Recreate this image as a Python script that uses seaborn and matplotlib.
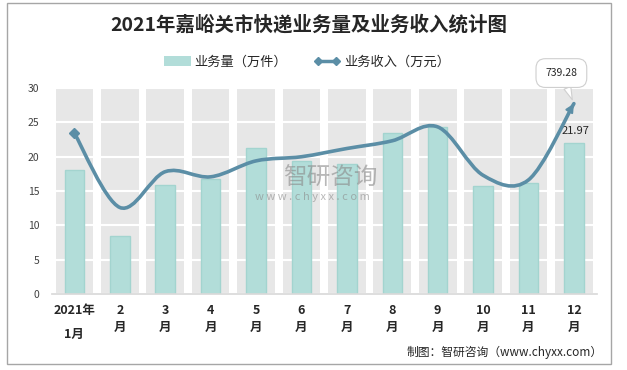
import numpy as np
import pandas as pd
import seaborn as sns
import matplotlib.pyplot as plt
from matplotlib.path import Path
from matplotlib.patches import PathPatch, FancyArrowPatch, Patch, Rectangle
from matplotlib.lines import Line2D

months = ['2021年\n1月', '2\n月', '3\n月', '4\n月', '5\n月', '6\n月',
          '7\n月', '8\n月', '9\n月', '10\n月', '11\n月', '12\n月']
volume = [18.1, 8.5, 15.9, 16.8, 21.3, 19.4, 19.0, 23.5, 24.3, 15.8, 16.1, 21.97]   # 万件
revenue = [624, 336, 475, 455, 517, 533, 565, 595, 649, 461, 443, 739.28]          # 万元
y_ticks = [0, 5, 10, 15, 20, 25, 30]

df = pd.DataFrame({'month': months, 'volume': volume, 'revenue': revenue,
                   'full': [y_ticks[-1]] * len(months)})

sns.set_theme(style='white')
plt.rcParams['font.family'] = ['Noto Sans CJK SC', 'DejaVu Sans']

teal = '#b2ddd9'
line_c = '#5b8ea6'

fig = plt.figure(figsize=(6.27, 3.70), dpi=100)
ax = fig.add_axes([0.0825, 0.2054, 0.869, 0.5568])

# grey background columns, then white gridlines, then the real bars
sns.barplot(data=df, x='month', y='full', color='#e7e7e7', width=0.83,
            saturation=1, linewidth=0, zorder=1, ax=ax)
sns.barplot(data=df, x='month', y='volume', color=teal, width=0.43,
            saturation=1, edgecolor='#a3d4cf', linewidth=1, zorder=2, ax=ax)
ax.set_axisbelow('line')
ax.grid(axis='y', color='white', linewidth=1.5)

ax.set_ylim(0, 30)
ax.set_xlim(-0.5, len(months) - 0.5)
ax.set_yticks(y_ticks)
ax.set_xlabel('')
ax.set_ylabel('')
for s in ['left', 'right', 'top']:
    ax.spines[s].set_visible(False)
ax.spines['bottom'].set_color('#d9d9d9')
ax.tick_params(axis='y', length=0, pad=9, labelsize=7.5, labelcolor='#404040')
ax.tick_params(axis='x', which='major', length=0, pad=7, labelsize=9,
               labelcolor='#262626')
ax.set_xticks(np.arange(-0.5, len(months)), minor=True)
ax.tick_params(axis='x', which='minor', length=5, color='#d9d9d9', width=1)
for i, t in enumerate(ax.get_xticklabels()):
    t.set_fontweight('bold')
    t.set_linespacing(2.1 if i == 0 else 1.45)

ax.annotate(f'{volume[-1]:.2f}', xy=(len(months) - 1, volume[-1]),
            xytext=(1, 9), textcoords='offset points', ha='center',
            va='center', fontsize=8, color='#262626', zorder=5)

# revenue on hidden secondary axis, smoothed like the Excel line
ax2 = ax.twinx()
ax2.set_ylim(0, 800)
ax2.axis('off')
pts = np.column_stack([np.arange(len(revenue)), revenue]).astype(float)
n = len(pts)
verts = [pts[0]]
codes = [Path.MOVETO]
for i in range(n - 1):
    p0 = pts[max(i - 1, 0)]
    p1 = pts[i]
    p2 = pts[i + 1]
    p3 = pts[min(i + 2, n - 1)]
    verts += [p1 + (p2 - p0) / 6, p2 - (p3 - p1) / 6, p2]
    codes += [Path.CURVE4] * 3
ax2.add_patch(PathPatch(Path(verts, codes), fc='none', ec=line_c, lw=2.6,
                        capstyle='round', zorder=3))
ax2.plot(pts[0, 0], pts[0, 1], marker='D', ms=5, color=line_c, zorder=4)
tail = pts[-1] - 0.25 * (pts[-1] - np.array(verts[-2]))
ax2.add_patch(FancyArrowPatch(tail, pts[-1], arrowstyle='-|>',
                              mutation_scale=12, color=line_c, lw=1.5,
                              shrinkA=0, shrinkB=0, zorder=4))
ax2.annotate(f'{revenue[-1]:.2f}', xy=(n - 1, revenue[-1]), xytext=(-9, 22),
             textcoords='offset points', ha='center', va='center',
             fontsize=7.5, color='#262626', zorder=6,
             bbox=dict(boxstyle='round,pad=0.9', fc='white', ec='#cfcfcf', lw=0.8),
             arrowprops=dict(arrowstyle='wedge,tail_width=0.7', fc='white',
                             ec='#cfcfcf', lw=0.8, shrinkA=0, shrinkB=3))

# legend
handles = [Patch(facecolor=teal, edgecolor='none'),
           Line2D([], [], color=line_c, lw=2.5, marker='D', ms=4)]
fig.legend(handles, ['业务量（万件）', '业务收入（万元）'], loc='center',
           bbox_to_anchor=(0.49, 0.832), ncols=2, frameon=False, fontsize=9.5,
           handlelength=2.0, handletextpad=0.3, columnspacing=2.0, numpoints=2)

fig.text(0.493, 1 - 25 / 370, '2021年嘉峪关市快递业务量及业务收入统计图',
         ha='center', va='center', fontsize=14, fontweight='bold', color='#262626')
fig.text(603 / 627, 1 - 352 / 370, '制图：智研咨询（www.chyxx.com）',
         ha='right', va='center', fontsize=8.5, color='#262626')

# watermark
fig.text(330 / 627, 1 - 178 / 370, '智研咨询', ha='center', va='center',
         fontsize=17, color='#8a8a8a', alpha=0.6, zorder=10)
fig.text(312 / 627, 1 - 197 / 370, 'w w w . c h y x x . c o m', ha='center',
         va='center', fontsize=8, color='#8a8a8a', alpha=0.6, zorder=10)

fig.patches.append(Rectangle((7 / 627, 1 - 364 / 370), 604 / 627, 361 / 370,
                             transform=fig.transFigure, fill=False,
                             ec='#a6a6a6', lw=1))

fig.savefig('out.png', dpi=100)
